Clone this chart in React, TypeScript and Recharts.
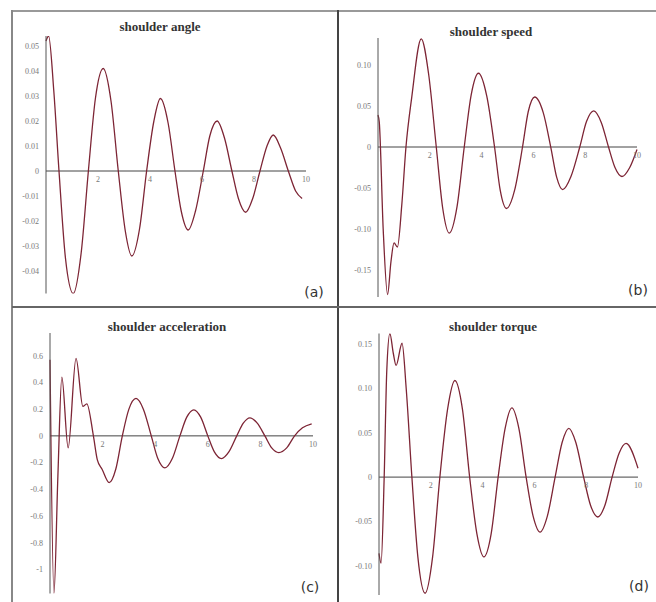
import React from "react";
import { LineChart, Line, XAxis, YAxis, ReferenceLine, ReferenceDot } from "recharts";

// shoulder angle (a)
const angleTime = [0, 0.1, 0.3, 0.5, 0.75, 1.05, 1.35, 1.63, 1.9, 2.2, 2.5, 2.78, 3.05, 3.3, 3.6, 3.87, 4.15, 4.4, 4.7, 4.96, 5.2, 5.47, 5.75, 6.05, 6.3, 6.58, 6.87, 7.15, 7.4, 7.68, 7.95, 8.23, 8.5, 8.74, 9.03, 9.32, 9.6, 9.85];
const angleValues = [0.052, 0.054, 0.032, 0, -0.035, -0.049, -0.033, 0, 0.029, 0.041, 0.028, 0, -0.024, -0.034, -0.023, 0, 0.02, 0.029, 0.019, 0, -0.016, -0.0236, -0.016, 0, 0.014, 0.02, 0.013, 0, -0.011, -0.0165, -0.011, 0, 0.01, 0.0144, 0.009, 0, -0.008, -0.011];
const angleTicks = [-0.04, -0.03, -0.02, -0.01, 0, 0.01, 0.02, 0.03, 0.04, 0.05];

// shoulder speed (b)
const speedTime = [0, 0.05, 0.2, 0.37, 0.5, 0.62, 0.75, 0.92, 1.08, 1.3, 1.67, 1.95, 2.25, 2.5, 2.75, 3.05, 3.33, 3.6, 3.88, 4.2, 4.5, 4.72, 4.96, 5.28, 5.58, 5.8, 6.05, 6.38, 6.67, 6.9, 7.13, 7.45, 7.79, 8.05, 8.33, 8.62, 8.9, 9.15, 9.42, 9.72, 10];
const speedValues = [0.039, 0.03, -0.1, -0.18, -0.14, -0.117, -0.122, -0.07, 0, 0.06, 0.132, 0.09, 0, -0.075, -0.105, -0.073, 0, 0.064, 0.09, 0.062, 0, -0.053, -0.075, -0.052, 0, 0.043, 0.061, 0.042, 0, -0.037, -0.052, -0.036, 0, 0.031, 0.044, 0.03, 0, -0.025, -0.036, -0.025, -0.003];
const speedTicks = [-0.15, -0.1, -0.05, 0, 0.05, 0.1];

// shoulder acceleration (c)
const accelTime = [0, 0.15, 0.3, 0.45, 0.69, 0.99, 1.25, 1.4, 1.65, 1.8, 1.98, 2.25, 2.5, 2.75, 3.0, 3.27, 3.55, 3.85, 4.1, 4.37, 4.65, 4.94, 5.2, 5.47, 5.73, 6.0, 6.25, 6.52, 6.8, 7.1, 7.35, 7.6, 7.88, 8.17, 8.43, 8.7, 9.0, 9.3, 9.6, 9.95];
const accelValues = [0.57, -1.18, -0.3, 0.44, -0.09, 0.58, 0.22, 0.24, 0, -0.18, -0.25, -0.35, -0.25, 0, 0.2, 0.28, 0.2, 0, -0.17, -0.24, -0.17, 0, 0.14, 0.195, 0.14, 0, -0.12, -0.17, -0.12, 0, 0.095, 0.135, 0.095, 0, -0.09, -0.125, -0.09, 0, 0.06, 0.09];
const accelTicks = [-1, -0.8, -0.6, -0.4, -0.2, 0, 0.2, 0.4, 0.6];

// shoulder torque (d)
const torqueTime = [0, 0.08, 0.2, 0.3, 0.42, 0.55, 0.66, 0.89, 1.05, 1.27, 1.5, 1.78, 2.07, 2.35, 2.65, 2.93, 3.22, 3.5, 3.78, 4.05, 4.33, 4.6, 4.87, 5.13, 5.4, 5.68, 5.95, 6.22, 6.5, 6.8, 7.07, 7.33, 7.6, 7.9, 8.17, 8.45, 8.72, 9.0, 9.27, 9.54, 10];
const torqueValues = [-0.086, -0.097, 0, 0.12, 0.162, 0.14, 0.126, 0.151, 0.1, 0, -0.09, -0.131, -0.09, 0, 0.077, 0.109, 0.077, 0, -0.064, -0.09, -0.064, 0, 0.055, 0.078, 0.055, 0, -0.044, -0.062, -0.044, 0, 0.039, 0.055, 0.039, 0, -0.032, -0.045, -0.032, 0, 0.027, 0.038, 0.01];
const torqueTicks = [-0.1, -0.05, 0, 0.05, 0.1, 0.15];

const xTicks = [2, 4, 6, 8, 10];

const toRows = (ts: number[], vs: number[]) => ts.map((t, i) => ({ t, v: vs[i] }));
const fmt2 = (v: number) => (v === 0 ? "0" : v.toFixed(2));
const fmt1 = (v: number) => (v === 0 ? "0" : String(v));

const CURVE = "#7d2535";
const serif = "'Liberation Serif', 'DejaVu Serif', serif";

interface PanelProps {
  left: number;
  top: number;
  width: number;
  height: number;
  margin: { top: number; right: number; bottom: number; left: number };
  domain: [number, number];
  yTicks: number[];
  fmt: (v: number) => string;
  rows: { t: number; v: number }[];
  title: string;
  titleX: number;
  titleY: number;
  tag: string;
  tagX: number;
  tagY: number;
}

const Panel: React.FC<PanelProps> = (p) => (
  <>
    <div style={{ position: "absolute", left: p.left, top: p.top }}>
      <LineChart width={p.width} height={p.height} data={p.rows} margin={p.margin}>
        <XAxis type="number" dataKey="t" domain={[0, 10]} hide />
        <YAxis
          type="number"
          width={30}
          domain={p.domain}
          ticks={p.yTicks}
          interval={0}
          allowDataOverflow
          tickFormatter={p.fmt}
          tickLine={false}
          tickMargin={1}
          axisLine={{ stroke: "#555", strokeWidth: 1 }}
          tick={{ fontSize: 8, fill: "#777", fontFamily: serif }}
        />
        <ReferenceLine y={0} stroke="#444" strokeWidth={1} />
        {xTicks.map((x) => (
          <ReferenceDot
            key={x}
            x={x}
            y={0}
            r={0}
            fill="none"
            stroke="none"
            label={{ value: String(x), position: "bottom", offset: 5, fontSize: 8, fill: "#777", fontFamily: serif }}
          />
        ))}
        <Line type="monotone" dataKey="v" stroke={CURVE} strokeWidth={1.3} dot={false} isAnimationActive={false} />
      </LineChart>
    </div>
    <div
      style={{
        position: "absolute",
        left: p.titleX - 100,
        top: p.titleY - 8,
        width: 200,
        textAlign: "center",
        fontFamily: serif,
        fontWeight: "bold",
        fontSize: 13,
        color: "#333",
        lineHeight: "16px",
      }}
    >
      {p.title}
    </div>
    <div
      style={{
        position: "absolute",
        left: p.tagX - 20,
        top: p.tagY - 9,
        width: 40,
        textAlign: "center",
        fontFamily: "'DejaVu Sans', sans-serif",
        fontSize: 14,
        color: "#333",
        lineHeight: "18px",
      }}
    >
      {p.tag}
    </div>
  </>
);

export default function App() {
  return (
    <div style={{ position: "absolute", left: 0, top: 0, width: 656, height: 602, background: "#fff", overflow: "hidden" }}>
      <div style={{ position: "absolute", left: 12, top: 10, width: 644, height: 2, background: "#999" }} />
      <div style={{ position: "absolute", left: 11, top: 10, width: 2, height: 592, background: "#888" }} />
      <div style={{ position: "absolute", left: 337, top: 10, width: 2, height: 592, background: "#444" }} />
      <div style={{ position: "absolute", left: 12, top: 306, width: 644, height: 2, background: "#666" }} />
      <Panel
        left={12} top={11} width={326} height={296}
        margin={{ top: 25, right: 32, bottom: 13.5, left: 4 }}
        domain={[-0.049, 0.054]} yTicks={angleTicks} fmt={fmt2}
        rows={toRows(angleTime, angleValues)}
        title="shoulder angle" titleX={160} titleY={27}
        tag="(a)" tagX={314} tagY={292}
      />
      <Panel
        left={338} top={11} width={318} height={296}
        margin={{ top: 27, right: 19, bottom: 10, left: 10 }}
        domain={[-0.183, 0.133]} yTicks={speedTicks} fmt={fmt2}
        rows={toRows(speedTime, speedValues)}
        title="shoulder speed" titleX={491} titleY={32}
        tag="(b)" tagX={638} tagY={290}
      />
      <Panel
        left={12} top={307} width={326} height={295}
        margin={{ top: 26, right: 25, bottom: 8.5, left: 8 }}
        domain={[-1.18, 0.77]} yTicks={accelTicks} fmt={fmt1}
        rows={toRows(accelTime, accelValues)}
        title="shoulder acceleration" titleX={167} titleY={327}
        tag="(c)" tagX={310} tagY={587}
      />
      <Panel
        left={338} top={307} width={318} height={295}
        margin={{ top: 26.5, right: 18, bottom: 7, left: 11 }}
        domain={[-0.133, 0.162]} yTicks={torqueTicks} fmt={fmt2}
        rows={toRows(torqueTime, torqueValues)}
        title="shoulder torque" titleX={493} titleY={327}
        tag="(d)" tagX={639} tagY={586}
      />
    </div>
  );
}
